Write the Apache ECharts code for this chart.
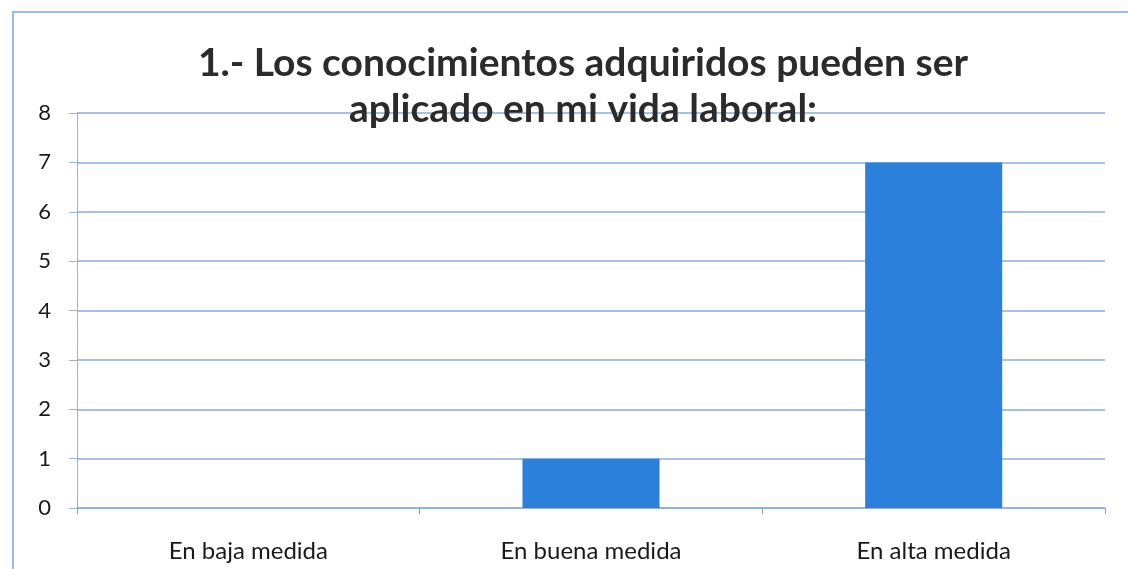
<!DOCTYPE html>
<html><head><meta charset="utf-8">
<script src="https://cdn.jsdelivr.net/npm/echarts@6/dist/echarts.min.js"></script>
<style>html,body{margin:0;padding:0;background:#fff}#c{width:1128px;height:569px}</style>
</head><body><div id="c"></div>
<script>
const categories = ["En baja medida", "En buena medida", "En alta medida"];
const values = [0, 1, 7];
const titleText = "1.- Los conocimientos adquiridos pueden ser\naplicado en mi vida laboral:";

const chart = echarts.init(document.getElementById('c'), null, {renderer: 'canvas'});
chart.setOption({
  animation: false,
  backgroundColor: '#ffffff',
  graphic: [{
    type: 'rect', z: 0,
    shape: {x: 13, y: 12, width: 1130, height: 570},
    style: {fill: 'none', stroke: '#9dbde6', lineWidth: 2}
  }],
  title: {
    text: titleText,
    left: 578, textAlign: 'center', top: 35,
    textStyle: {fontFamily: 'Lato', fontWeight: 'bold', fontSize: 39, color: '#2b2b2b', lineHeight: 46}
  },
  grid: {left: 77, right: 23, top: 113, bottom: 61, containLabel: false},
  xAxis: {
    type: 'category', data: categories,
    axisLine: {lineStyle: {color: '#8aaede', width: 1.5}},
    axisTick: {show: true, alignWithLabel: false, length: 6, lineStyle: {color: '#999'}},
    axisLabel: {fontFamily: 'Lato', fontSize: 24, color: '#1a1a1a', margin: 31}
  },
  yAxis: {
    type: 'value', min: 0, max: 8, interval: 1,
    axisLine: {show: true, lineStyle: {color: '#9ab4d6', width: 1}},
    axisTick: {show: true, length: 8, lineStyle: {color: '#9ab4d6'}},
    axisLabel: {fontFamily: 'Lato', fontSize: 22, color: '#1a1a1a', margin: 26},
    splitLine: {lineStyle: {color: '#86aee0', width: 1.5}}
  },
  series: [{
    type: 'bar', data: values, barWidth: '40%',
    itemStyle: {color: '#2a80da'}
  }]
});
</script></body></html>
